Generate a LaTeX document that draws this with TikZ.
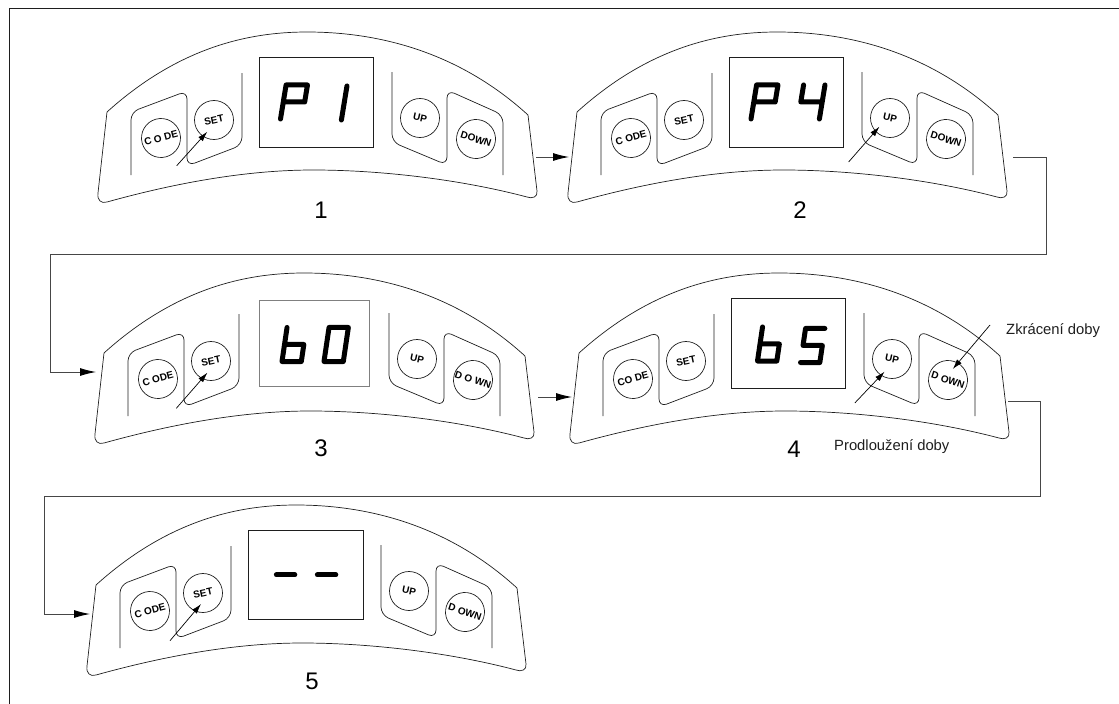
\documentclass[tikz,border=0pt]{standalone}
\usepackage{fontspec}
\setmainfont{Liberation Sans}
\usetikzlibrary{arrows.meta,positioning}
\definecolor{PanelInk}{RGB}{30,30,30}
\definecolor{LinkGray}{RGB}{70,70,70}
\tikzset{
  segline/.style={line width=5pt, line cap=round, line join=round, draw=black},
  pics/glyphP/.style={code={\draw[segline] (0,0)--(6,-37)--(29,-37)--(26,-18.5)--(3,-18.5);}},
  pics/glyphone/.style={code={\draw[segline] (23,0)--(29,-37);}},
  pics/glyphfour/.style={code={\draw[segline] (6,-37)--(3,-18.5)--(26,-18.5) (29,-37)--(23,0);}},
  pics/glyphb/.style={code={\draw[segline] (6,-37)--(0,0)--(23,0)--(26,-18.5)--(3,-18.5);}},
  pics/glyphzero/.style={code={\draw[segline] (0,0)--(6,-37)--(29,-37)--(23,0)--cycle;}},
  pics/glyphS/.style={code={\draw[segline] (29,-37)--(6,-37)--(3,-18.5)--(26,-18.5)--(23,0)--(0,0);}},
  pics/glyphdash/.style={code={\draw[segline] (3,-18.5)--(26,-18.5);}}
}
\begin{document}
\begin{tikzpicture}[
    x=1pt,y=-1pt,
    outline/.style={draw=PanelInk, line width=0.7pt},
    frameline/.style={draw=PanelInk, line width=0.7pt, rounded corners=8pt},
    display/.style={draw=PanelInk, line width=0.8pt, anchor=north west, inner sep=0pt},
    displaythin/.style={draw=gray, line width=0.5pt, anchor=north west, inner sep=0pt},
    button/.style={circle, draw=PanelInk, line width=0.7pt, minimum size=39pt, inner sep=0pt, font=\bfseries\fontsize{10}{10}\selectfont},
    stepnum/.style={font=\fontsize{24}{24}\selectfont},
    note/.style={font=\fontsize{14.8}{15}\selectfont, text=PanelInk, inner sep=0pt},
    link/.style={draw=LinkGray, line width=0.9pt},
    linkin/.style={link, -{Latex[length=16pt,width=8pt,black]}},
    press/.style={draw=black, line width=0.7pt, -{Latex[length=10pt,width=6pt]}}
  ]
    \useasboundingbox (0,0) rectangle (1119,704);
    % page border, open at right and bottom
    \coordinate (borderA) at (9,704);
    \coordinate (borderB) at (9,8);
    \coordinate (borderC) at (1119,8);
    \draw[draw=PanelInk, line width=0.9pt] (borderA) -- (borderB) -- (borderC);
    % the five panels
    \foreach \n/\x/\y/\dstyle/\dx/\dy/\dw/\dh/\gs/\gA/\xA/\yA/\gB/\xB/\yB/\codelab/\downlab in {
        1/259/57/display/0/0/114/90/0.93/glyphP/21.5/62/glyphone/61/63/C O DE/DOWN,
        2/729/57/display/0/0/114/90/0.93/glyphP/22/62/glyphfour/69/62/C ODE/DOWN,
        3/256/298/displaythin/3/2/110/86/0.84/glyphb/26/63.5/glyphzero/68/63.5/C ODE/D O WN,
        4/731/298/display/0/0/114/90/0.84/glyphb/26.5/63/glyphS/69.5/64.5/CO DE/D OWN,
        5/248/530/display/0/0/115/89/0.8/glyphdash/26/62/glyphdash/67/62/C ODE/D OWN} {
      \begin{scope}[shift={(\x,\y)}]
        \draw[outline] (-152,55) .. controls (-80,-10) and (-10,-25) .. (48,-25)
          .. controls (120,-25) and (200,-5) .. (269,58) -- (278,134)
          .. controls (279,140) and (273,142) .. (268,140)
          .. controls (200,122) and (120,113) .. (54,113)
          .. controls (-10,113) and (-80,125) .. (-152,145)
          .. controls (-158,147) and (-162,143) .. (-161,136) -- cycle;
        \draw[frameline] (-128,118) -- (-128,55) -- (-72,34) -- (-72,109) -- (-17,88) -- (-17,16);
        \draw[frameline] (133,15) -- (133,85) -- (188,108) -- (188,33) -- (244,58) -- (244,118);
        \node[\dstyle, minimum width=\dw pt, minimum height=\dh pt] (disp\n) at (\dx,\dy) {};
        \pic[xscale=\gs, yscale=0.92] at (\xA,\yA) {\gA};
        \pic[xscale=\gs, yscale=0.92] at (\xB,\yB) {\gB};
        \node[button, rotate=15] (code\n) at (-98,81) {\codelab};
        \node[button, rotate=12] (set\n) at (-45,63) {SET};
        \node[button, rotate=-12] (up\n) at (161,61) {UP};
        \node[button, rotate=-18] (down\n) at (217,82) {\downlab};
      \end{scope}
    }
    % step numbers
    \node[stepnum] (num1) at (321,210) {1};
    \node[stepnum] (num2) at (800,210) {2};
    \node[stepnum] (num3) at (321,448) {3};
    \node[stepnum] (num4) at (794,449) {4};
    \node[stepnum] (num5) at (312,681) {5};
    \node[note, anchor=west] (shorter) at (1006,331) {Zkrácení doby};
    \node[note, anchor=west] (longer) at (834,447) {Prodloužení doby};
    % key presses
    \foreach \name/\xa/\ya/\xb/\yb in {
        one/176.7/165.7/207.3/131.7, two/848.6/162/879.4/126.7, three/176.3/408.3/207.4/372.7,
        fourup/854.8/403/884.5/371.7, fourdown/990/325/952.8/369, five/170/640.7/201/604} {
      \coordinate (\name from) at (\xa,\ya);
      \coordinate (\name to) at (\xb,\yb);
      \draw[press] (\name from) -- (\name to);
    }
    % links between panels
    \foreach \name/\x/\y in {outA/536/157, inB/569/157, outB/1013/157, turnB/1046/157, turnC/1046/254,
        turnD/50/254, turnE/50/372, inC/96/372, outC/538/397, inD/572/397, outD/1008/401,
        turnF/1040/401, turnG/1040/496, turnH/44/496, turnI/44/614, inE/90/614} {
      \coordinate (\name) at (\x,\y);
    }
    \draw[linkin] (outA) -- (inB);
    \draw[linkin] (outB) -- (turnB) -- (turnC) -- (turnD) -- (turnE) -- (inC);
    \draw[linkin] (outC) -- (inD);
    \draw[linkin] (outD) -- (turnF) -- (turnG) -- (turnH) -- (turnI) -- (inE);
  \end{tikzpicture}
\end{document}
